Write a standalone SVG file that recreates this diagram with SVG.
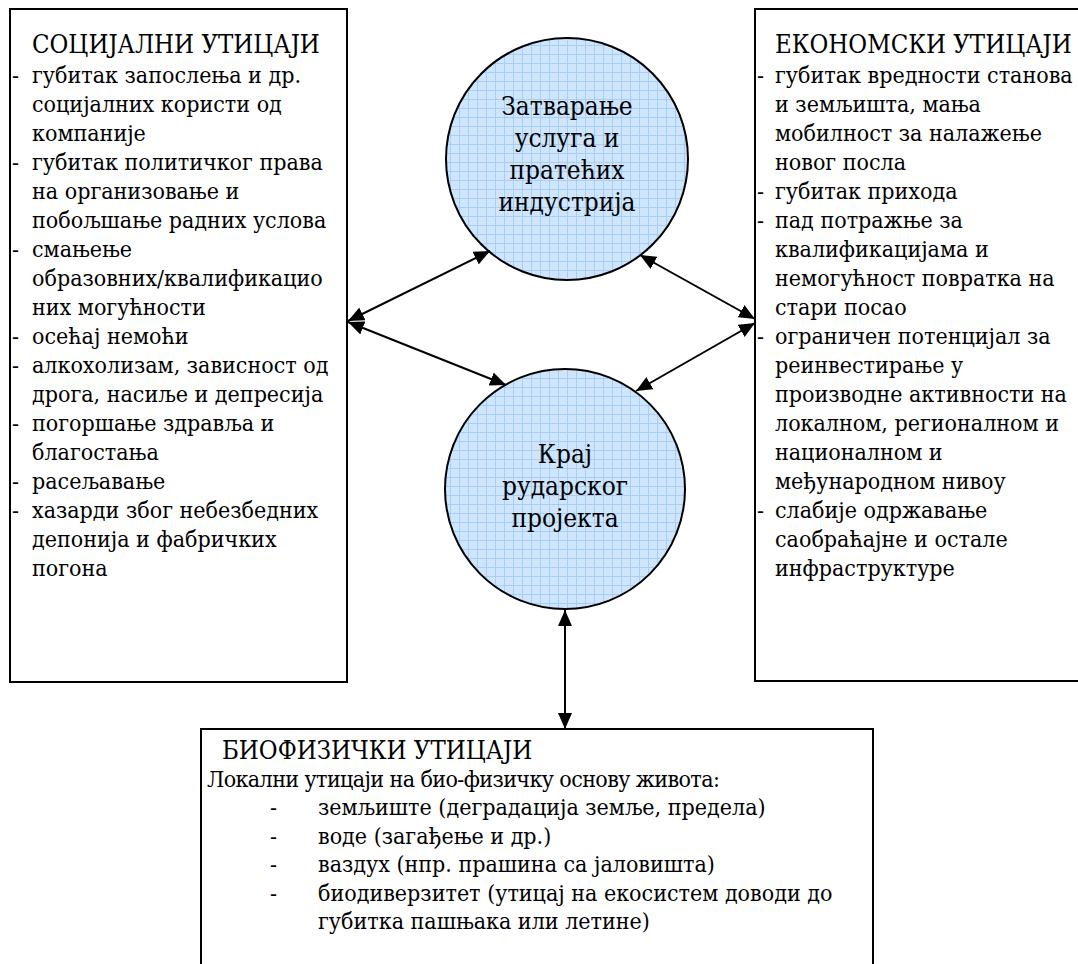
<svg xmlns="http://www.w3.org/2000/svg" width="1078" height="964" viewBox="0 0 1078 964">
<style>
.box{fill:#fff;stroke:#000;stroke-width:2}
.circ{stroke:#000;stroke-width:2}
.t{font-family:"DejaVu Serif","Liberation Serif",serif;font-stretch:condensed;font-size:23px;fill:#000}
.h{font-size:25.5px}
.ct{font-family:"DejaVu Serif","Liberation Serif",serif;font-stretch:condensed;font-size:26px;fill:#000;text-anchor:middle}
.con{stroke:#000;stroke-width:2;fill:none;marker-start:url(#ah);marker-end:url(#ah)}
</style>
<defs>
<pattern id="grid" width="9" height="9" patternUnits="userSpaceOnUse">
<rect width="9" height="9" fill="#cfe5fc"/>
<path d="M0 0.5H9M0.5 0V9" stroke="#a6cef6" stroke-width="1"/>
</pattern>
<marker id="ah" markerWidth="16" markerHeight="14" refX="16" refY="7" orient="auto-start-reverse" markerUnits="userSpaceOnUse">
<path d="M0,0 L16,7 L0,14 z" fill="#000"/>
</marker>
</defs>
<rect width="1078" height="964" fill="#fff"/>

<g id="social">
<rect class="box" x="10" y="9" width="337" height="673"/>
<text class="t h" x="32" y="53">СОЦИЈАЛНИ УТИЦАЈИ</text>
<text class="t" x="12" y="83">-</text><text class="t" x="32" y="83">губитак запослења и др.</text>
<text class="t" x="32" y="112">социјалних користи од</text>
<text class="t" x="32" y="141">компаније</text>
<text class="t" x="12" y="170">-</text><text class="t" x="32" y="170">губитак политичког права</text>
<text class="t" x="32" y="199">на организовање и</text>
<text class="t" x="32" y="228">побољшање радних услова</text>
<text class="t" x="12" y="257">-</text><text class="t" x="32" y="257">смањење</text>
<text class="t" x="32" y="286">образовних/квалификацио</text>
<text class="t" x="32" y="315">них могућности</text>
<text class="t" x="12" y="344">-</text><text class="t" x="32" y="344">осећај немоћи</text>
<text class="t" x="12" y="373">-</text><text class="t" x="32" y="373">алкохолизам, зависност од</text>
<text class="t" x="32" y="402">дрога, насиље и депресија</text>
<text class="t" x="12" y="431">-</text><text class="t" x="32" y="431">погоршање здравља и</text>
<text class="t" x="32" y="460">благостања</text>
<text class="t" x="12" y="489">-</text><text class="t" x="32" y="489">расељавање</text>
<text class="t" x="12" y="518">-</text><text class="t" x="32" y="518">хазарди због небезбедних</text>
<text class="t" x="32" y="547">депонија и фабричких</text>
<text class="t" x="32" y="576">погона</text>
</g>

<g id="economic">
<rect class="box" x="755" y="9" width="340" height="672"/>
<text class="t h" x="775" y="53">ЕКОНОМСКИ УТИЦАЈИ</text>
<text class="t" x="757" y="83">-</text><text class="t" x="775" y="83">губитак вредности станова</text>
<text class="t" x="775" y="112">и земљишта, мања</text>
<text class="t" x="775" y="141">мобилност за налажење</text>
<text class="t" x="775" y="170">новог посла</text>
<text class="t" x="757" y="199">-</text><text class="t" x="775" y="199">губитак прихода</text>
<text class="t" x="757" y="228">-</text><text class="t" x="775" y="228">пад потражње за</text>
<text class="t" x="775" y="257">квалификацијама и</text>
<text class="t" x="775" y="286">немогућност повратка на</text>
<text class="t" x="775" y="315">стари посао</text>
<text class="t" x="757" y="344">-</text><text class="t" x="775" y="344">ограничен потенцијал за</text>
<text class="t" x="775" y="373">реинвестирање у</text>
<text class="t" x="775" y="402">производне активности на</text>
<text class="t" x="775" y="431">локалном, регионалном и</text>
<text class="t" x="775" y="460">националном и</text>
<text class="t" x="775" y="489">међународном нивоу</text>
<text class="t" x="757" y="518">-</text><text class="t" x="775" y="518">слабије одржавање</text>
<text class="t" x="775" y="547">саобраћајне и остале</text>
<text class="t" x="775" y="576">инфраструктуре</text>
</g>

<g id="closure">
<circle class="circ" cx="567" cy="159" r="121" fill="url(#grid)"/>
<text class="ct" x="567" y="115">Затварање</text>
<text class="ct" x="567" y="147">услуга и</text>
<text class="ct" x="567" y="179">пратећих</text>
<text class="ct" x="567" y="211">индустрија</text>
</g>

<g id="end">
<circle class="circ" cx="565" cy="489" r="120" fill="url(#grid)"/>
<text class="ct" x="565" y="463">Крај</text>
<text class="ct" x="565" y="495">рударског</text>
<text class="ct" x="565" y="527">пројекта</text>
</g>

<g id="biophysical">
<rect class="box" x="201" y="729" width="672" height="250"/>
<text class="t h" x="222" y="759">БИОФИЗИЧКИ УТИЦАЈИ</text>
<text class="t" x="207" y="787" letter-spacing="-0.6">Локални утицаји на био-физичку основу живота:</text>
<text class="t" x="270" y="815">-</text><text class="t" x="318" y="815">земљиште (деградација земље, предела)</text>
<text class="t" x="270" y="844">-</text><text class="t" x="318" y="844">воде (загађење и др.)</text>
<text class="t" x="270" y="872">-</text><text class="t" x="318" y="872">ваздух (нпр. прашина са јаловишта)</text>
<text class="t" x="270" y="901">-</text><text class="t" x="318" y="901">биодиверзитет (утицај на екосистем доводи до</text>
<text class="t" x="318" y="929">губитка пашњака или летине)</text>
</g>

<g id="connectors">
<line class="con" x1="348" y1="321" x2="490" y2="251"/>
<line class="con" x1="348" y1="322" x2="506" y2="385"/>
<line class="con" x1="755" y1="319" x2="640" y2="255"/>
<line class="con" x1="755" y1="323" x2="636" y2="391"/>
<line class="con" x1="565" y1="610" x2="565" y2="729"/>
</g>
</svg>
